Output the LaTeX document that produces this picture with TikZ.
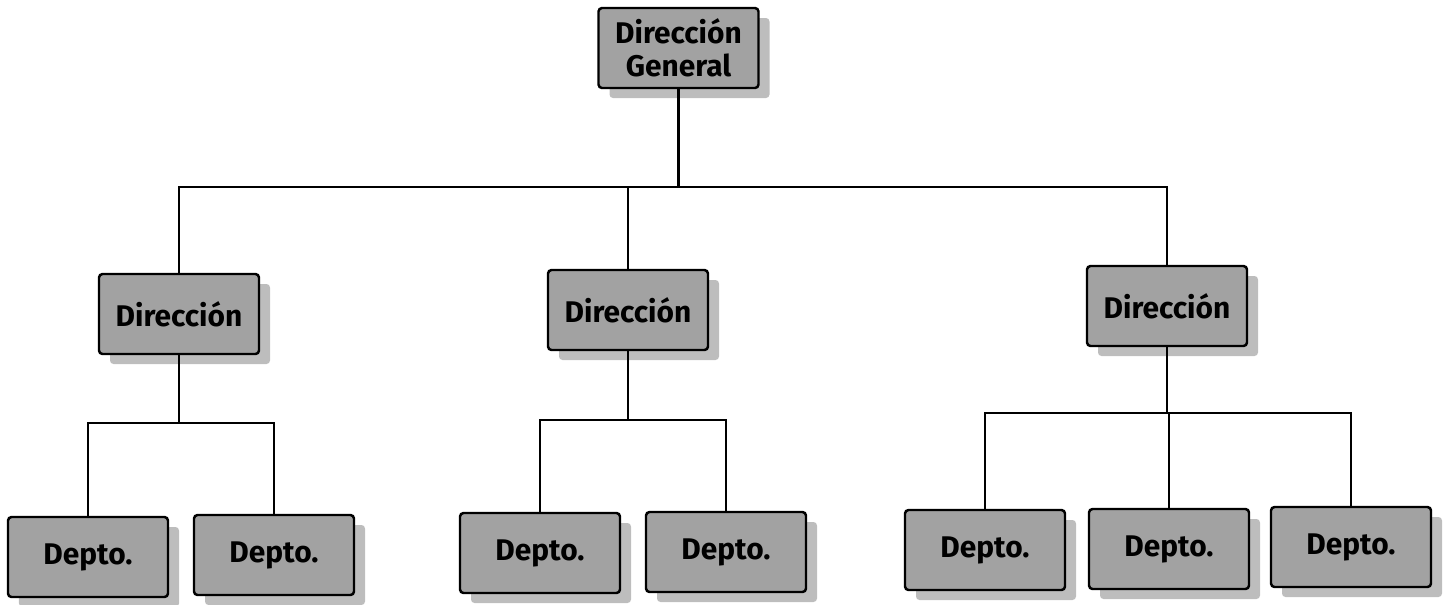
\documentclass[tikz,border=0pt]{standalone}
\usepackage{fontspec}
\setmainfont{Fira Sans}
\usetikzlibrary{shadows}

\definecolor{boxgray}{HTML}{A2A2A2}
\definecolor{shadegray}{HTML}{BDBDBD}

\begin{document}
\begin{tikzpicture}[line width=1.4pt,
	box/.style={draw=black,fill=boxgray,rounded corners=2pt,minimum width=3.2cm,minimum height=1.6cm,
		align=center,font=\bfseries\fontsize{17}{19}\selectfont,
		drop shadow={shadow xshift=.22cm,shadow yshift=-.2cm,fill=shadegray,opacity=1}}]

\useasboundingbox (0,0) rectangle (28.94,-12.08);

\node [box] (dg) at (13.57,-0.96) {Dirección\\General};

\node [box] (d1) at (3.58,-6.28) {Dirección};
\node [box] (d2) at (12.56,-6.2) {Dirección};
\node [box] (d3) at (23.34,-6.12) {Dirección};

\foreach \i/\x/\y in {1/1.76/-11.14,2/5.48/-11.1,3/10.8/-11.06,4/14.52/-11.04,5/19.7/-11.0,6/23.38/-10.98,7/27.02/-10.94} {
	\node [box] (p\i) at (\x,\y) {Depto.};
}

\coordinate (bus0) at (0,-3.74);
\coordinate (bus1) at (0,-8.46);
\coordinate (bus2) at (0,-8.4);
\coordinate (bus3) at (0,-8.26);

\draw (dg.south) -- (dg.south |- bus0);
\draw (d1.north) |- (d3.north |- bus0) -- (d3.north);
\draw (d2.north) -- (d2.north |- bus0);

\draw (d1.south) -- (d1.south |- bus1);
\draw (p1.north) |- (p2.north |- bus1) -- (p2.north);

\draw (d2.south) -- (d2.south |- bus2);
\draw (p3.north) |- (p4.north |- bus2) -- (p4.north);

\draw (d3.south) -- (d3.south |- bus3);
\draw (p5.north) |- (p7.north |- bus3) -- (p7.north);
\draw (p6.north) -- (p6.north |- bus3);

\end{tikzpicture}
\end{document}
